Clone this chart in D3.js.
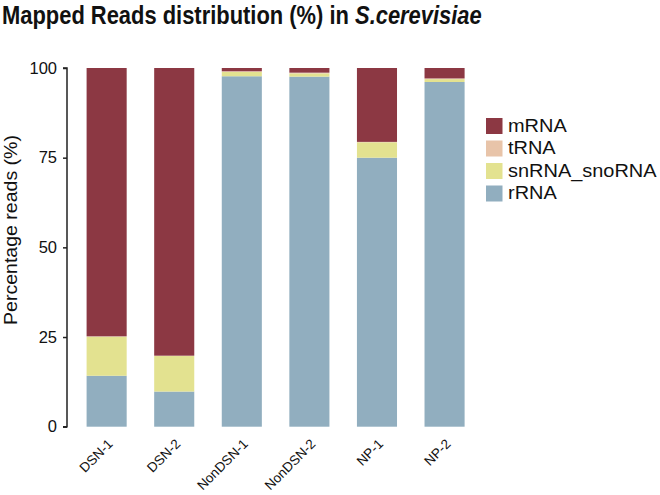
<!DOCTYPE html>
<html><head><meta charset="utf-8">
<script src="https://cdn.jsdelivr.net/npm/d3@7"></script>
<style>body{margin:0;background:#fff}svg{display:block}text{font-family:"Liberation Sans",Arial,sans-serif}</style>
</head><body><svg id="c" width="660" height="495"></svg>
<script>
const categories = ["DSN-1","DSN-2","NonDSN-1","NonDSN-2","NP-1","NP-2"];
const seriesNames = ["rRNA","snRNA_snoRNA","tRNA","mRNA"];
const rRNA = [14.2, 9.8, 97.7, 97.6, 75.0, 96.1];
const snRNA_snoRNA = [10.9, 9.9, 1.2, 0.9, 4.3, 0.8];
const tRNA = [0.1, 0.1, 0.2, 0.2, 0.1, 0.2];
const mRNA = [74.8, 80.2, 0.9, 1.3, 20.6, 2.9];
const yTicks = [0, 25, 50, 75, 100];
const legendOrder = ["mRNA","tRNA","snRNA_snoRNA","rRNA"];
const colors = {mRNA:"#8C3843", tRNA:"#E8C4A9", snRNA_snoRNA:"#E3E290", rRNA:"#91AEBF"};

const table = categories.map((c,i)=>({cat:c, rRNA:rRNA[i], snRNA_snoRNA:snRNA_snoRNA[i], tRNA:tRNA[i], mRNA:mRNA[i]}));
const stacked = d3.stack().keys(seriesNames)(table);

const svg = d3.select("#c");
const x = d3.scaleBand().domain(categories).range([67, 484.2]).paddingInner(0.407).paddingOuter(0.29);
const y = d3.scaleLinear().domain([0,100]).range([426.7, 68]);

svg.append("g").selectAll("g").data(stacked).join("g")
  .attr("fill", d=>colors[d.key])
  .selectAll("rect").data(d=>d).join("rect")
  .attr("x", d=>x(d.data.cat)).attr("width", x.bandwidth())
  .attr("y", d=>y(d[1])).attr("height", d=>y(d[0])-y(d[1]));

// y axis
const ya = svg.append("g").attr("transform","translate(67,0)")
  .call(d3.axisLeft(y).tickValues(yTicks).tickSize(4).tickPadding(6));
ya.select(".domain").attr("stroke","#222").attr("stroke-width",1.5).attr("d","M-4,"+y(100)+"H0V"+y(0)+"H-4");
ya.selectAll(".tick line").attr("stroke","#222").attr("stroke-width",1.5);
ya.selectAll(".tick text").attr("font-size",16.5).attr("fill","#111").style("font-family","Liberation Sans, Arial, sans-serif");

// x labels
const xa = svg.append("g").attr("transform","translate(0,426.7)")
  .call(d3.axisBottom(x).tickSize(0).tickPadding(0));
xa.select(".domain").remove();
xa.selectAll(".tick text").attr("font-size",13.5).attr("fill","#111")
  .attr("text-anchor","end").attr("dy",0).attr("y",0)
  .attr("transform","translate(7,18) rotate(-45)")
  .style("font-family","Liberation Sans, Arial, sans-serif");

// y label
svg.append("text").attr("transform","translate(17,230) rotate(-90)")
  .attr("text-anchor","middle").attr("font-size",18).attr("fill","#111")
  .attr("textLength",190).attr("lengthAdjust","spacingAndGlyphs")
  .text("Percentage reads (%)");

// title
const tg = svg.append("g");
const t = tg.append("text").attr("x",0).attr("y",0).attr("font-size",25.5).attr("font-weight","bold").attr("fill","#111");
t.append("tspan").text("Mapped Reads distribution (%) in ");
t.append("tspan").attr("font-style","italic").text("S.cerevisiae");
const tw = t.node().getBBox().width;
tg.attr("transform",`translate(2,23.5) scale(${480/tw},1)`);

// legend
const lg = svg.append("g").attr("transform","translate(486,118)");
legendOrder.forEach((k,i)=>{
  const g = lg.append("g").attr("transform",`translate(0,${i*22.5})`);
  g.append("rect").attr("width",16.5).attr("height",16).attr("fill",colors[k]);
  const tx = g.append("text").attr("x",22).attr("y",13.5).attr("font-size",17.5).attr("fill","#111").text(k);
  const w = tx.node().getComputedTextLength();
  tx.attr("textLength", w*1.14).attr("lengthAdjust","spacingAndGlyphs");
});
</script></body></html>
